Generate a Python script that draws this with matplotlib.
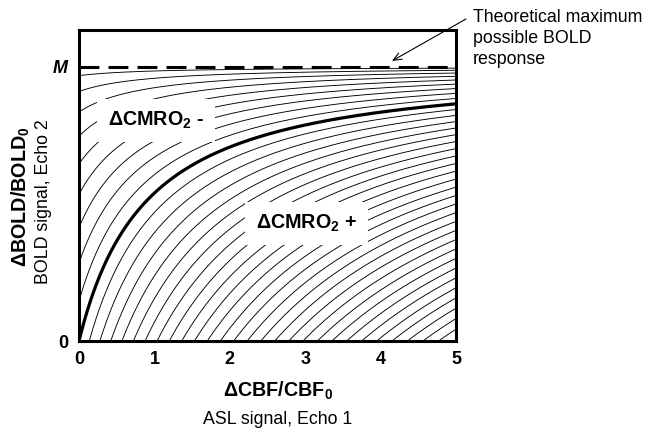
import numpy as np
from matplotlib import pyplot as plt

plt.rcParams['font.family'] = ['Liberation Sans', 'DejaVu Sans']
plt.rcParams['mathtext.fontset'] = 'custom'
plt.rcParams['mathtext.rm'] = 'Liberation Sans'
plt.rcParams['mathtext.it'] = 'Liberation Sans:italic'
plt.rcParams['mathtext.bf'] = 'Liberation Sans:bold'


# Davis model parameters
M = 1.0
alpha = 0.38
beta = 1.5

# CMRO2/CMRO2_0 levels drawn as contours
r_minus = [0.1, 0.2, 0.3, 0.4, 0.5, 0.6, 0.7, 0.8, 0.9]
r_iso = 1.0
r_plus = [1.1, 1.2, 1.3, 1.4, 1.5, 1.6, 1.7, 1.8, 1.9, 2.0,
          2.1, 2.2, 2.3, 2.4, 2.5, 2.6, 2.7, 2.8, 2.9, 3.0,
          3.1, 3.2, 3.3, 3.4, 3.5, 3.6, 3.7, 3.8]

xticks = [0, 1, 2, 3, 4, 5]
yticks = [0, M]
ytick_labels = ['0', 'M']

dcbf = np.linspace(0, 5, 400)


def bold(f, r):
    return M*(1.0 - (1.0 + f)**(alpha - beta) * r**beta)


fig = plt.figure(figsize=(6.46, 4.32), dpi=100)
ax = fig.add_axes([79/646, 1 - 341/432, 377/646, 311/432])

for r in r_minus + r_plus:
    ax.plot(dcbf, bold(dcbf, r), '-', color='black', lw=0.65)
ax.plot(dcbf, bold(dcbf, r_iso), '-', color='black', lw=2.3)
ax.axhline(M, color='black', lw=2.2, dashes=(6.5, 3.0))

ax.set_xlim(0, 5)
ax.set_ylim(0, 1.135*M)
for s in ax.spines.values():
    s.set_linewidth(2.2)

ax.set_xticks(xticks)
ax.set_xticklabels([str(t) for t in xticks], fontsize=13, fontweight='bold')
ax.set_yticks(yticks)
ax.set_yticklabels(ytick_labels, fontsize=13, fontweight='bold')
ax.get_yticklabels()[1].set_style('italic')
ax.tick_params(length=0)
ax.tick_params(axis='x', pad=7)
ax.tick_params(axis='y', pad=8)

box = dict(boxstyle='square,pad=0.55', fc='white', ec='none')
ax.text(1.02, 0.805, r'$\mathbf{\Delta CMRO_2}$ -', fontsize=14.2, fontweight='bold',
        ha='center', va='center', bbox=box)
ax.text(3.02, 0.43, r'$\mathbf{\Delta CMRO_2}$ +', fontsize=14.2, fontweight='bold',
        ha='center', va='center', bbox=box)

# axis labels
fig.text(278/646, 1 - 391/432, r'$\mathbf{\Delta CBF/CBF_0}$', fontsize=14.2,
         ha='center', va='center')
fig.text(278/646, 1 - 420/432, 'ASL signal, Echo 1', fontsize=12.8,
         ha='center', va='center')
fig.text(21/646, 1 - 197/432, r'$\mathbf{\Delta BOLD/BOLD_0}$', fontsize=14.2,
         ha='center', va='center', rotation=90)
fig.text(44/646, 1 - 202/432, 'BOLD signal, Echo 2', fontsize=12.8,
         ha='center', va='center', rotation=90)

# annotation
fig.text(473/646, 1 - 9/432, 'Theoretical maximum\npossible BOLD\nresponse',
         fontsize=12.8, ha='left', va='top', linespacing=1.32)
ax.annotate('', xy=(4.15, 1.022), xycoords='data',
            xytext=(466/646, 1 - 19/432), textcoords='figure fraction',
            arrowprops=dict(arrowstyle='->,head_length=0.6,head_width=0.25',
                            color='black', lw=0.8, shrinkA=0, shrinkB=0))

fig.savefig('out.png', dpi=100)
